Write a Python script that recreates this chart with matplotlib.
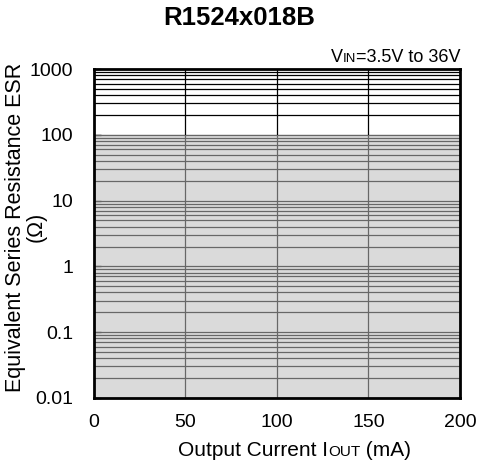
import numpy as np
import matplotlib.pyplot as plt

plt.rcParams['font.family'] = ['Liberation Sans', 'DejaVu Sans']

# axis ranges and ticks
x_ticks = [0, 50, 100, 150, 200]
y_ticks = [0.01, 0.1, 1, 10, 100, 1000]
y_tick_labels = ['0.01', '0.1', '1', '10', '100', '1000']
x_grid = [50, 100, 150]

# stable region (ESR limits)
iout = [0, 200]
esr_low = [0.01, 0.01]
esr_high = [100, 100]

fig = plt.figure(figsize=(4.79, 4.73), dpi=100)
ax = fig.add_axes([0.196, 0.159, 0.764, 0.695])
ax.set_yscale('log')
ax.set_xlim(0, 200)
ax.set_ylim(0.01, 1000)

# grid lines (drawn manually so the fill can tint them)
grid_y = []
for d in [0.01, 0.1, 1, 10, 100]:
    for m in range(1, 10):
        grid_y.append(d * m)
for y in grid_y[1:]:
    ax.axhline(y, color='black', lw=0.9, zorder=1)
for x in x_grid:
    ax.axvline(x, color='black', lw=0.9, zorder=1)

ax.fill_between(iout, esr_low, esr_high, color='#bdbdbd', alpha=0.55,
                lw=0, zorder=2)

ax.set_xticks(x_ticks)
ax.set_xticklabels([str(v) for v in x_ticks])
ax.set_yticks(y_ticks)
ax.set_yticklabels(y_tick_labels)
ax.yaxis.set_minor_locator(plt.NullLocator())
ax.tick_params(axis='both', labelsize=14, direction='in')
ax.tick_params(axis='x', length=0, pad=12)
ax.tick_params(axis='y', length=5, width=1, pad=15)

for s in ax.spines.values():
    s.set_linewidth(2)
    s.set_zorder(5)

fig.text(0.5, 0.962, 'R1524x018B', ha='center', va='center',
         fontsize=18.5, fontweight='bold')

# y label
fig.text(0.054, 0.52, 'Equivalent Series Resistance ESR\n(\u03a9)',
         rotation=90, ha='center', va='center', fontsize=15.5,
         linespacing=1.0)


def place_row(parts, x, y, align='left'):
    # lay out pieces of text on one baseline (small caps via smaller size)
    fig.canvas.draw()
    r = fig.canvas.get_renderer()
    texts = [fig.text(0, y, s, fontsize=fs, va='baseline') for s, fs in parts]
    widths = [t.get_window_extent(r).width / fig.bbox.width for t in texts]
    if align == 'right':
        x = x - sum(widths)
    for t, w in zip(texts, widths):
        t.set_x(x)
        x += w


place_row([('Output Current I', 15), ('OUT', 11), (' (mA)', 15)], 0.372, 0.036)
place_row([('V', 13), ('IN', 9.5), ('=3.5V to 36V', 13)], 0.962, 0.869,
          align='right')

fig.savefig('out.png', dpi=100)
